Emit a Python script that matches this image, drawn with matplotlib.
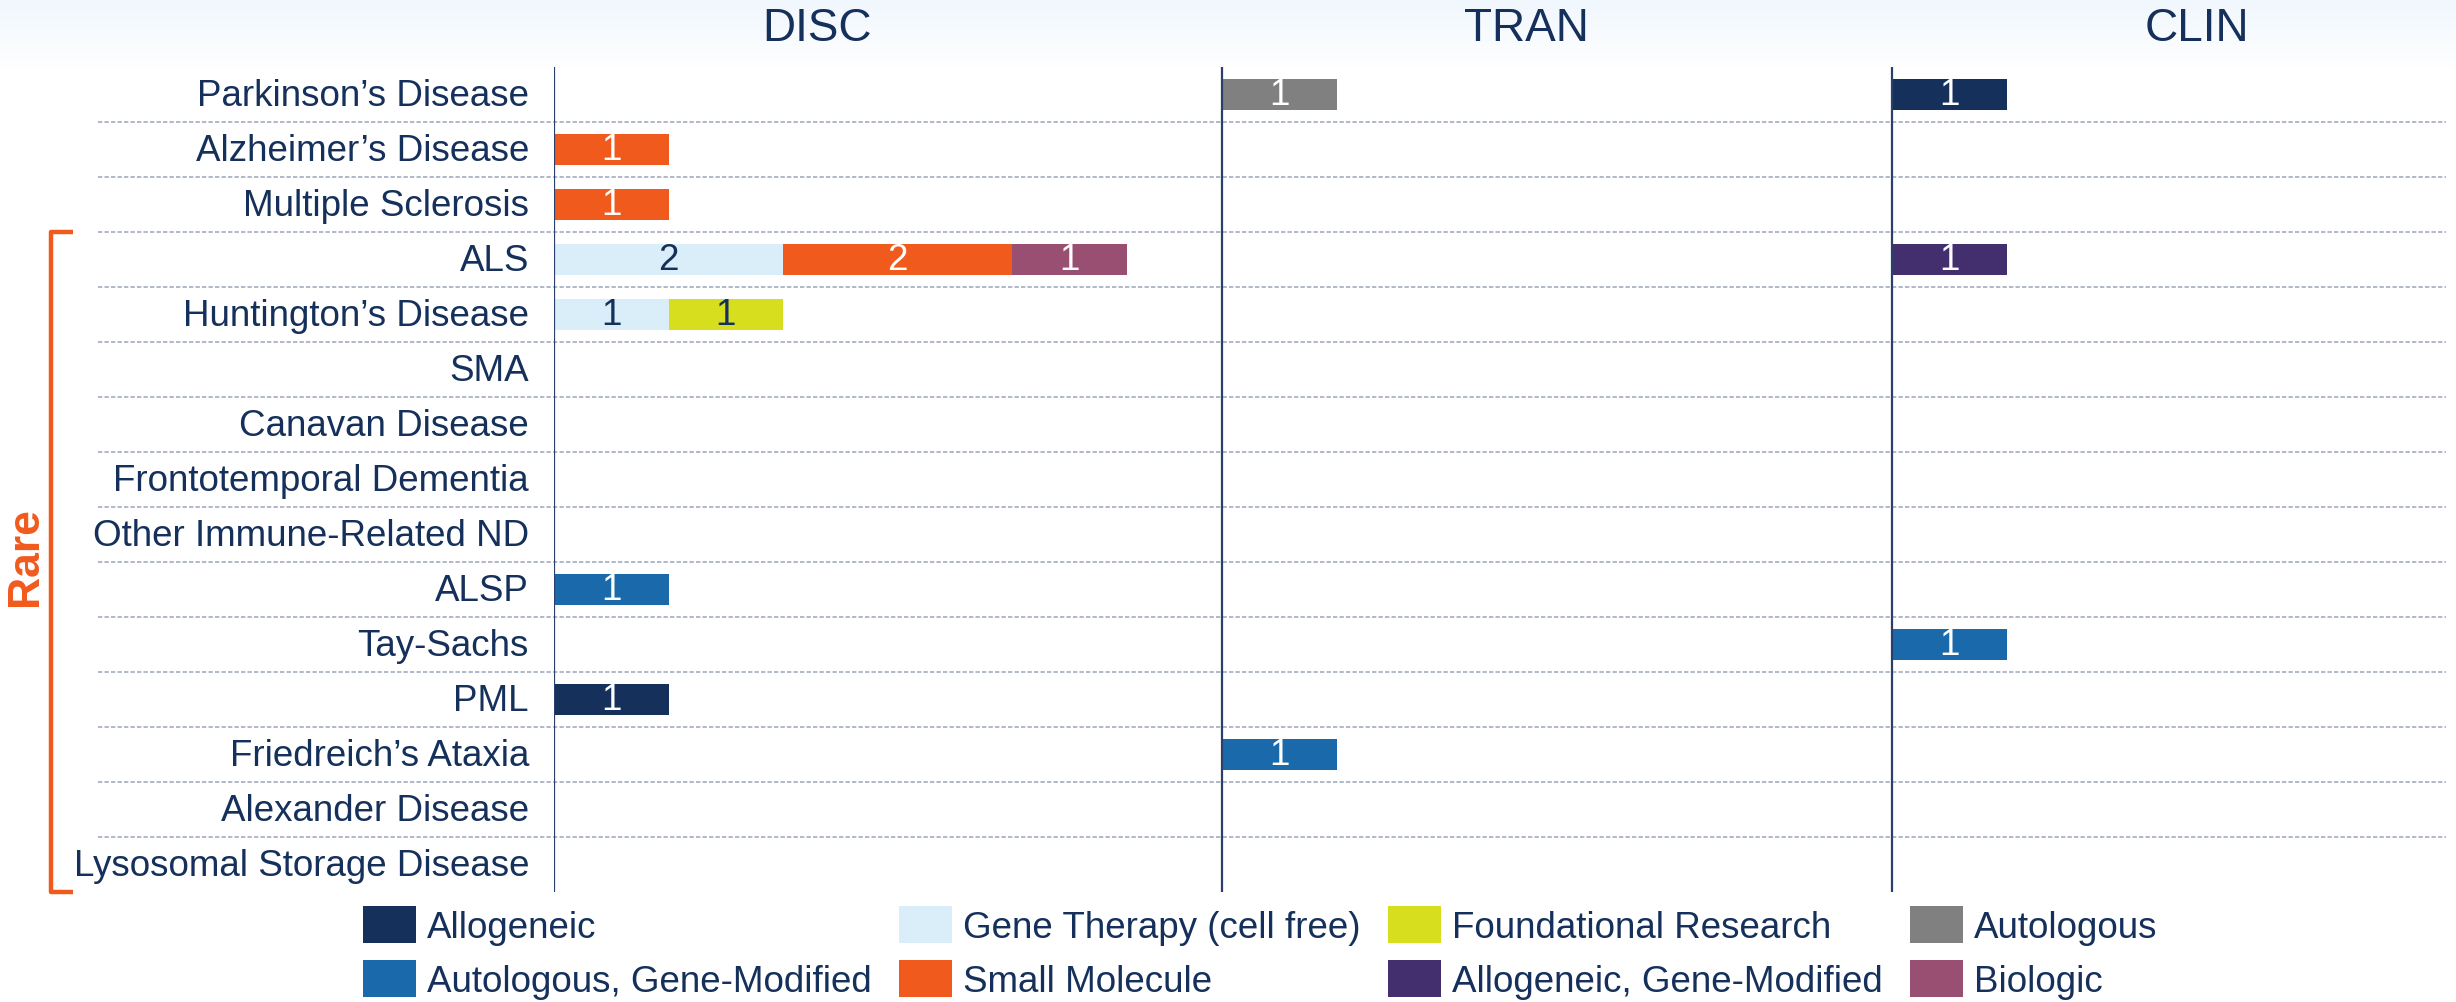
import numpy as np
import matplotlib
matplotlib.use("Agg")
import matplotlib.pyplot as plt
import matplotlib.transforms as mtransforms
from matplotlib.patches import Patch

plt.rcParams['font.family'] = ['Liberation Sans', 'DejaVu Sans']

# ---------------- data ----------------
diseases = ["Parkinson\u2019s Disease", "Alzheimer\u2019s Disease", "Multiple Sclerosis",
            "ALS", "Huntington\u2019s Disease", "SMA", "Canavan Disease",
            "Frontotemporal Dementia", "Other Immune-Related ND", "ALSP",
            "Tay-Sachs", "PML", "Friedreich\u2019s Ataxia", "Alexander Disease",
            "Lysosomal Storage Disease"]
stages = ["DISC", "TRAN", "CLIN"]
categories = ["Allogeneic", "Autologous, Gene-Modified", "Gene Therapy (cell free)",
              "Small Molecule", "Foundational Research", "Allogeneic, Gene-Modified",
              "Autologous", "Biologic"]
colors = ["#15305a", "#1a6aab", "#d9eef9", "#f15a1d", "#d6de1e", "#432f6e",
          "#808080", "#984f72"]
label_colors = ["white", "white", "#15305a", "white", "#15305a", "white", "white", "white"]

# counts per disease (same order as `diseases`)
disc_allogeneic      = [0, 0, 0, 0, 0, 0, 0, 0, 0, 0, 0, 1, 0, 0, 0]
disc_auto_gm         = [0, 0, 0, 0, 0, 0, 0, 0, 0, 1, 0, 0, 0, 0, 0]
disc_gene_therapy    = [0, 0, 0, 2, 1, 0, 0, 0, 0, 0, 0, 0, 0, 0, 0]
disc_small_molecule  = [0, 1, 1, 2, 0, 0, 0, 0, 0, 0, 0, 0, 0, 0, 0]
disc_foundational    = [0, 0, 0, 0, 1, 0, 0, 0, 0, 0, 0, 0, 0, 0, 0]
disc_biologic        = [0, 0, 0, 1, 0, 0, 0, 0, 0, 0, 0, 0, 0, 0, 0]
tran_autologous      = [1, 0, 0, 0, 0, 0, 0, 0, 0, 0, 0, 0, 0, 0, 0]
tran_auto_gm         = [0, 0, 0, 0, 0, 0, 0, 0, 0, 0, 0, 0, 1, 0, 0]
clin_allogeneic      = [1, 0, 0, 0, 0, 0, 0, 0, 0, 0, 0, 0, 0, 0, 0]
clin_allo_gm         = [0, 0, 0, 1, 0, 0, 0, 0, 0, 0, 0, 0, 0, 0, 0]
clin_auto_gm         = [0, 0, 0, 0, 0, 0, 0, 0, 0, 0, 1, 0, 0, 0, 0]

stage_data = {
    "DISC": {"Allogeneic": disc_allogeneic, "Autologous, Gene-Modified": disc_auto_gm,
             "Gene Therapy (cell free)": disc_gene_therapy,
             "Small Molecule": disc_small_molecule,
             "Foundational Research": disc_foundational, "Biologic": disc_biologic},
    "TRAN": {"Autologous": tran_autologous, "Autologous, Gene-Modified": tran_auto_gm},
    "CLIN": {"Allogeneic": clin_allogeneic, "Allogeneic, Gene-Modified": clin_allo_gm,
             "Autologous, Gene-Modified": clin_auto_gm},
}

# ---------------- layout ----------------
W, H = 2456, 1003
fig = plt.figure(figsize=(W / 100, H / 100), dpi=100)
navy = "#15305a"
orange = "#f15a1d"

# header gradient band
hax = fig.add_axes([0, 1 - 70 / H, 1, 70 / H], zorder=-5)
grad = np.linspace(0, 1, 100)[:, None]
top = np.array([0.94, 0.968, 0.993])
base = np.ones(3)
img = top[None, None, :] * (1 - grad[..., None]) + base[None, None, :] * grad[..., None]
img = np.repeat(img, 2, axis=1)
hax.imshow(img, aspect="auto", extent=[0, 1, 0, 1])
hax.axis("off")

unit_px = 114.5
ax_left, ax_right = 554, 2446
row_top, row_h = 67.7, 55.0
n = len(diseases)
ax = fig.add_axes([ax_left / W, 1 - (row_top + n * row_h) / H,
                   (ax_right - ax_left) / W, n * row_h / H])
xmax = (ax_right - ax_left) / unit_px
stage_offsets = {"DISC": 0.0, "TRAN": (1222 - ax_left) / unit_px,
                 "CLIN": (1892 - ax_left) / unit_px}
ax.set_xlim(0, xmax)
ax.set_ylim(n - 0.5, -0.5)
for s in ax.spines.values():
    s.set_visible(False)
ax.set_xticks([])
ax.set_yticks(range(n))
ax.set_yticklabels(diseases, fontsize=26.5, color=navy)
ax.tick_params(axis="y", length=0, pad=18)
shift_up = mtransforms.ScaledTranslation(0, 3 / 100, fig.dpi_scale_trans)
for lbl in ax.get_yticklabels():
    lbl.set_transform(lbl.get_transform() + shift_up)

y = np.arange(n)
bar_h = 0.56
for stage in stages:
    off = stage_offsets[stage]
    left = np.zeros(n)
    for ci, cat in enumerate(categories):
        if cat not in stage_data[stage]:
            continue
        vals = np.array(stage_data[stage][cat], dtype=float)
        ax.barh(y, vals, left=off + left, height=bar_h, color=colors[ci], zorder=3)
        for i in range(n):
            if vals[i] > 0:
                ax.text(off + left[i] + vals[i] / 2, y[i], f"{int(vals[i])}",
                        ha="center", va="center", fontsize=26.5,
                        color=label_colors[ci], zorder=4)
        left += vals

# panel lines
for stage in stages:
    ax.axvline(stage_offsets[stage], color="#2b3f6b", lw=1.6, zorder=5)

# dotted separators (extend into label area)
sep_x0 = (98 - ax_left) / unit_px
for k in range(n - 1):
    ax.plot([sep_x0, xmax], [k + 0.5, k + 0.5], color="#a3adc0", lw=1.2,
            ls=(0, (2.6, 1.3)), clip_on=False, zorder=1)

# stage titles
title_x = {"DISC": 817, "TRAN": 1526, "CLIN": 2197}
for stage in stages:
    fig.text(title_x[stage] / W, 1 - 29 / H, stage, ha="center", va="center",
             fontsize=33, color=navy)

# Rare bracket
bx0 = (51 - ax_left) / unit_px
bx1 = (73 - ax_left) / unit_px
ax.plot([bx1, bx0, bx0, bx1], [2.5, 2.5, n - 0.5 + 0.01, n - 0.5 + 0.01],
        color=orange, lw=3.2, clip_on=False, solid_joinstyle="round",
        solid_capstyle="butt")
ax.text((25 - ax_left) / unit_px, (557 - 95.2) / row_h, "Rare", rotation=90,
        ha="center", va="center", fontsize=32, fontweight="bold", color=orange,
        clip_on=False)

# legend
handles = [Patch(facecolor=c, edgecolor="none") for c in colors]
fig.legend(handles, categories, loc="upper left",
           bbox_to_anchor=(363 / W, 1 - 907 / H), ncol=4, frameon=False,
           fontsize=26.5, labelcolor=navy, handlelength=1.44, handleheight=1.15,
           handletextpad=0.3, columnspacing=0.74, labelspacing=0.42,
           borderpad=0, borderaxespad=0)

fig.savefig("out.png", dpi=100)
